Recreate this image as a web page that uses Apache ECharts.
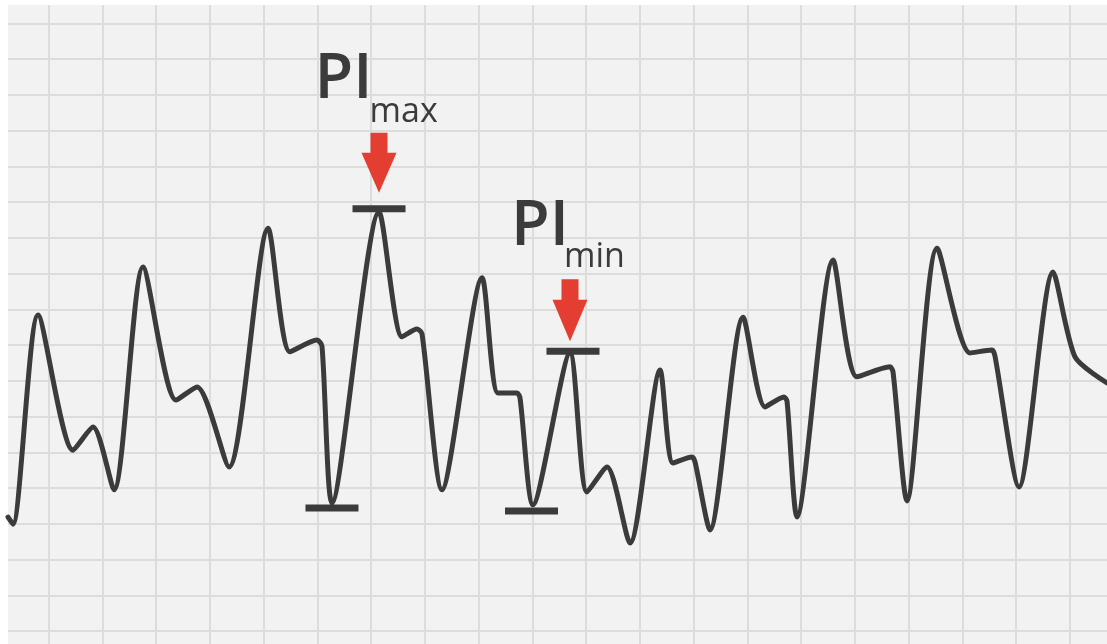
<!DOCTYPE html>
<html>
<head>
<meta charset="utf-8">
<script src="https://cdn.jsdelivr.net/npm/echarts@6/dist/echarts.min.js"></script>
<style>
html,body{margin:0;padding:0;background:#fff;}
#chart{width:1107px;height:644px;}
</style>
</head>
<body>
<div id="chart"></div>
<script>
// Waveform samples (x in grid divisions, y in grid divisions)
const timeValues = [0.247, 0.340, 0.805, 1.456, 1.828, 2.219, 2.758, 3.372, 3.763, 4.358,
  5.084, 5.493, 5.995, 6.088, 6.274, 7.149, 7.577, 7.856, 7.949, 8.321,
  9.065, 9.363, 9.716, 9.772, 10.014, 10.702, 11.019, 11.391, 11.819, 12.377,
  12.619, 12.972, 13.028, 13.307, 13.921, 14.330, 14.684, 14.740, 14.926, 15.595,
  16.042, 16.656, 16.712, 16.972, 17.530, 18.144, 18.553, 18.609, 19.056, 19.688,
  20.098, 20.693];
const waveValues = [4.19, 3.99, 9.84, 6.06, 6.71, 4.95, 11.18, 7.46, 7.83, 5.59,
  12.27, 8.81, 9.14, 8.97, 4.58, 12.72, 9.23, 9.45, 9.31, 4.95,
  10.88, 7.66, 7.66, 7.52, 4.53, 8.78, 4.89, 5.59, 3.46, 8.30,
  5.70, 5.87, 5.73, 3.83, 9.78, 7.27, 7.55, 7.43, 4.19, 11.38,
  8.11, 8.39, 8.25, 4.64, 11.71, 8.78, 8.86, 8.69, 5.03, 11.04,
  8.67, 7.94];

// Visible range of the paper (grid divisions)
const xRange = [0.2465, 20.693];
const yRange = [0.6378, 18.512];
// Paper grid line positions
const xGridLines = [1, 2, 3, 4, 5, 6, 7, 8, 9, 10, 11, 12, 13, 14, 15, 16, 17, 18, 19, 20];
const yGridLines = [1, 2, 3, 4, 5, 6, 7, 8, 9, 10, 11, 12, 13, 14, 15, 16, 17, 18];

// Caliper caps: [x, y]
const capTroughMax = [6.274, 4.44];
const capPeakMax   = [7.149, 12.81];
const capTroughMin = [9.986, 4.36];
const capPeakMin   = [10.758, 8.83];

// Annotation texts
const mainLabel = 'PI';
const subLabels = ['max', 'min'];

const INK = '#3b3b3b';
const RED = '#e43d31';
const GRIDC = '#dcdcdc';

const lineData = timeValues.map((t, i) => [t, waveValues[i]]);

const gridLineData = xGridLines.map(v => ({ xAxis: v }))
  .concat(yGridLines.map(v => ({ yAxis: v })));

const arrowPath = 'path://M9,0 L26,0 L26,20 L35,20 L17.5,60 L0,20 L9,20 Z';

function textPoint(coord, text, size, weight, dx, dy) {
  return {
    coord: coord,
    symbol: 'rect',
    symbolSize: 1,
    itemStyle: { color: 'rgba(0,0,0,0)' },
    label: {
      show: true,
      position: 'inside',
      formatter: text,
      color: INK,
      fontFamily: 'Open Sans',
      fontSize: size,
      fontWeight: weight,
      align: 'left',
      verticalAlign: 'middle',
      offset: [dx, dy]
    }
  };
}

function cap(coord) {
  return { coord: coord, symbol: 'rect', symbolSize: [53, 7], itemStyle: { color: INK }, label: { show: false } };
}

const chart = echarts.init(document.getElementById('chart'), null, { renderer: 'canvas' });

chart.setOption({
  backgroundColor: '#ffffff',
  animation: false,
  grid: {
    left: 8, right: 0, top: 5, bottom: 0,
    show: true, backgroundColor: '#f2f2f2', borderWidth: 0,
    containLabel: false
  },
  xAxis: {
    type: 'value', min: xRange[0], max: xRange[1],
    axisLine: { show: false }, axisTick: { show: false }, axisLabel: { show: false },
    splitLine: { show: false }
  },
  yAxis: {
    type: 'value', min: yRange[0], max: yRange[1],
    axisLine: { show: false }, axisTick: { show: false }, axisLabel: { show: false },
    splitLine: { show: false }
  },
  series: [{
    type: 'line',
    z: 3,
    data: lineData,
    showSymbol: false,
    smooth: 0.25,
    lineStyle: { color: INK, width: 5, join: 'round', cap: 'round' },
    markLine: {
      z: 1,
      silent: true,
      animation: false,
      symbol: 'none',
      label: { show: false },
      lineStyle: { color: GRIDC, width: 2, type: 'solid' },
      emphasis: { disabled: true },
      data: gridLineData
    },
    markPoint: {
      z: 5,
      silent: true,
      animation: false,
      data: [
        cap(capTroughMax), cap(capPeakMax), cap(capTroughMin), cap(capPeakMin),
        { coord: capPeakMax, symbol: arrowPath, symbolSize: [35, 60], symbolKeepAspect: false, symbolOffset: [0, -46], itemStyle: { color: RED }, label: { show: false } },
        { coord: capPeakMin, symbol: arrowPath, symbolSize: [35, 62], symbolKeepAspect: false, symbolOffset: [-3, -41], itemStyle: { color: RED }, label: { show: false } },
        textPoint(capPeakMax, mainLabel, 63, 600, -64.5, -128.5),
        textPoint(capPeakMax, subLabels[0], 34, 500, -9.5, -96.5),
        textPoint(capPeakMin, mainLabel, 63, 600, -62, -124.5),
        textPoint(capPeakMin, subLabels[1], 34, 500, -9, -94)
      ]
    }
  }]
});
</script>
</body>
</html>
